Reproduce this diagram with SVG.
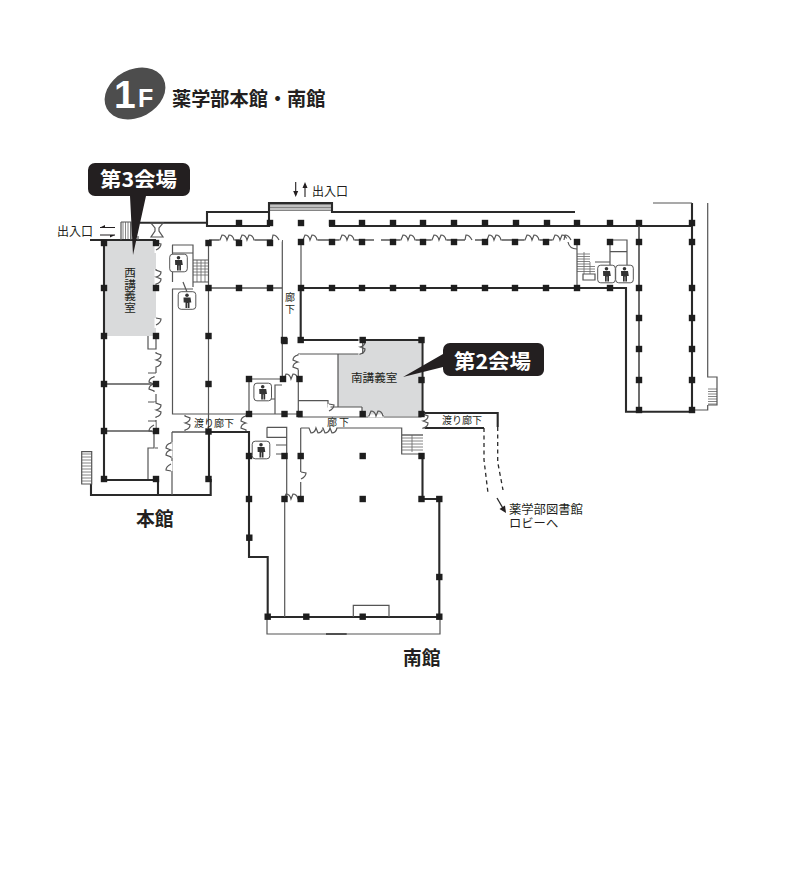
<svg xmlns="http://www.w3.org/2000/svg" width="800" height="872" viewBox="0 0 800 872">
<style>
text{font-family:"Noto Sans CJK JP","Liberation Sans",sans-serif;fill:#231f20}
.k{fill:none;stroke:#2a2a2a;stroke-width:2.1}
.t{fill:none;stroke:#555;stroke-width:1.2}
.m{fill:none;stroke:#555;stroke-width:1.7}
.h{fill:none;stroke:#666;stroke-width:.8}
.w{fill:none;stroke:#fff;stroke-width:3}
.d{fill:none;stroke:#2a2a2a;stroke-width:1.3;stroke-dasharray:4 3.5}
.s{font-size:10px}
.r{font-size:11.6px}
.l{font-size:12px}
.c{font-size:20.5px;font-weight:700;fill:#fff}
.b{font-size:18.8px;font-weight:700}
.n{font-size:12.300px;font-family:"Liberation Sans","Noto Sans CJK JP",sans-serif}
</style>
<defs>
<rect id="p" x="-3.200" y="-3.200" width="6.400" height="6.400" fill="#1e1e1e"/>
<g id="dd"><path class="w" d="M-8 0H8"/><path class="t" d="M-8 0h1l2-5c3 0 4.500 3 5 5l2-5c3 0 4.500 3 5 5h1"/></g>
<g id="ds"><path class="w" d="M-5 0H5"/><path class="t" d="M-5 0l1-5c3 0 5 3 6 5"/></g>
<g id="wc"><rect x="-8.800" y="-8.800" width="17.600" height="17.600" rx="3" fill="#fff" stroke="#555" stroke-width="1"/><circle cy="-5.200" r="1.800" fill="#333"/><path d="M-3.500-3h7l.8 5h-1.800v5.500h-1.700v-5h-.600v5h-1.700v-5.500h-1.800z" fill="#333"/></g>
</defs>

<g id="rooms">
<rect x="104" y="241" width="52" height="95" fill="#d9dadb"/>
<polygon points="362.700,341 421,341 421,416 362,416 362,407 338,407 338,354 362.700,354" fill="#d9dadb"/>
</g>

<g id="walls">
<path class="h" d="M123 222v18M125.500 222v18M128 222v18M130.500 222v18M269 204.500h63M269 206h63M269 207.500h63M269 209h63M269 210.500h63"/>
<path class="h" d="M193 263h15M193 266h15M193 269h15M193 272h15M193 275h15M197 260v22M201 260v22M205 260v22"/>
<path class="h" d="M577 254h13M577 256.500h13M577 259h13M577 261.500h13M577 264h13M577 266.500h18M577 269h18M577 271.500h18M584 252v22M590 262v12"/>
<path class="h" d="M708 389h9M708 391.500h9M708 394h9M708 396.500h9M708 399h9M708 401.500h9M708 404h9"/>
<path class="h" d="M81.700 454h10M81.700 457h10M81.700 460h10M81.700 463h10M81.700 466h10M81.700 469h10M81.700 472h10M81.700 475h10M81.700 478h10M81.700 481h10"/>
<path class="h" d="M402 435h21M402 438h21M402 441h21M402 444h21M402 447h21M402 450h21M412 435v17"/>
<path class="k" d="M90 240H156M104 240V480H158V495M91 484V495H210.700V480H209V432M209 432H249V557H267.700V617H439.300V499H422.500V456M422.500 414V340H300.700V288H626V411.700H692V203"/>
<path class="k" d="M140 222.700H207V212H269V203H332V212H575M207 212V226H270M329 226H692M269 203V223"/>
<path class="k" d="M423 428H484M421 413H497.700V427"/>
<path class="m" d="M172 432H209M209 288H282M104 384H156M104 431H156M639 226V411M209 240H282M301 240H374M381 240H577"/>
<path class="t" d="M121 222H131V240M121 222V240M138 222.700V228M138 236V240"/>
<path class="t" d="M282.300 240V379M301 240V288M208.500 240V432M172.500 289V414H249M172.500 245V282M172 245H193V287M172 253H193M172 289H193M193 260H208M193 282H208M183 282L187 292"/>
<path class="t" d="M156 336V349H148V336M156 360V373M148 373H156M156 394V402M148 402H156M156 420V431M148 421H156M154 431V448H148V479M172 432V495M155 448H158"/>
<path class="t" d="M249 379H282M249 379V414H275V385H282M256 384V399H275M249 414H300M298.300 354V417H423M298 354H362M338 354V407H328V400.700H298M362 407H338M362 407V416M362.700 340V354"/>
<path class="t" d="M267 427.300H286.700V499M267 427.300V437.300H286.700M276 445H286.700M276 454H286.700"/>
<path class="t" d="M284.700 499V617M300.700 428H401.700V454H422M401.700 435H423M300.700 428V499M353.300 617V605.300H389V617"/>
<path class="t" d="M267 617V634H440V617"/>
<path class="k" d="M326 634H346.700" style="stroke-width:1.400"/>
<path class="t" d="M692 203H653M707.700 203V377H717V405H708M707.700 405V410H692M577 242V288M583 274H595V280H583ZM595 262H610M610 240H627V265M610 251.700H627M610 240V265"/>
<path class="t" d="M81.700 451.700H91.700V484H81.700Z"/>
</g>

<g id="doors">
<use href="#dd" x="227" y="240"/><use href="#dd" x="247" y="240"/><use href="#ds" x="277" y="240"/>
<use href="#dd" x="310" y="240"/><use href="#dd" x="347" y="240"/><use href="#dd" x="408" y="240"/><use href="#dd" x="439" y="240"/><use href="#ds" x="470" y="240"/><use href="#dd" x="494" y="240"/><use href="#dd" x="532" y="240"/><use href="#dd" x="560" y="240"/><use href="#ds" x="569" y="240"/>
<path class="t" d="M568 242c1 5 4 7 9 7"/>
<path class="t" d="M151 223h12l-4 5v3l4 6h-12l4-6v-3z"/>
<use href="#ds" transform="translate(156 248) rotate(90)"/><use href="#dd" transform="translate(156 277) rotate(90)"/><use href="#ds" transform="translate(156 323) rotate(90)"/>
<use href="#dd" transform="translate(156 360) rotate(90)"/>
<use href="#dd" transform="translate(154 384) rotate(-90)"/>
<use href="#dd" transform="translate(156 410) rotate(90)"/>
<use href="#ds" transform="translate(154 427) rotate(-90)"/>
<use href="#dd" transform="translate(171 450) rotate(-90)"/>
<use href="#ds" transform="translate(171 466) rotate(-90)"/>
<use href="#dd" transform="translate(185 423) rotate(90)"/>
<use href="#dd" transform="translate(246 423) rotate(-90)"/>
<use href="#dd" x="291" y="379"/>
<use href="#dd" x="291" y="499"/>
<use href="#dd" transform="translate(298 362) rotate(-90)"/>
<use href="#dd" transform="translate(360 347) rotate(90)"/>
<use href="#ds" transform="translate(329 409) rotate(90)"/>
<use href="#dd" x="376" y="416"/>
<use href="#dd" transform="translate(316 428) scale(1 -1)"/>
<use href="#dd" transform="translate(330 428) scale(1 -1)"/>
<use href="#dd" transform="translate(423 421) rotate(90)"/>
<use href="#ds" transform="translate(301 477) rotate(90)"/>
</g>

<g id="pillars">
<use href="#p" x="104" y="243"/><use href="#p" x="156" y="243"/><use href="#p" x="104" y="288"/><use href="#p" x="156" y="288"/><use href="#p" x="104" y="336"/><use href="#p" x="156" y="336"/><use href="#p" x="104" y="384"/><use href="#p" x="156" y="384"/><use href="#p" x="104" y="431"/><use href="#p" x="156" y="431"/><use href="#p" x="104" y="479"/><use href="#p" x="156" y="479"/>
<use href="#p" x="208.500" y="243"/><use href="#p" x="239" y="243"/><use href="#p" x="270" y="243"/><use href="#p" x="208.500" y="288"/><use href="#p" x="239" y="288"/><use href="#p" x="270" y="288"/><use href="#p" x="208.500" y="336"/><use href="#p" x="208.500" y="384"/><use href="#p" x="208.500" y="431.500"/><use href="#p" x="208.500" y="479"/>
<use href="#p" x="239" y="223"/><use href="#p" x="270" y="223"/><use href="#p" x="301" y="223"/><use href="#p" x="284.500" y="341"/>
<use href="#p" x="332" y="223"/><use href="#p" x="362" y="223"/><use href="#p" x="393" y="223"/><use href="#p" x="423" y="223"/><use href="#p" x="454" y="223"/><use href="#p" x="485" y="223"/><use href="#p" x="516" y="223"/><use href="#p" x="547" y="223"/><use href="#p" x="577" y="223"/><use href="#p" x="610" y="223"/><use href="#p" x="639" y="223"/><use href="#p" x="692" y="223"/>
<use href="#p" x="301" y="242"/><use href="#p" x="332" y="242"/><use href="#p" x="362" y="242"/><use href="#p" x="393" y="242"/><use href="#p" x="423" y="242"/><use href="#p" x="454" y="242"/><use href="#p" x="485" y="242"/><use href="#p" x="515" y="242"/><use href="#p" x="546" y="242"/><use href="#p" x="577" y="242"/><use href="#p" x="610" y="242"/><use href="#p" x="639" y="242"/><use href="#p" x="692" y="242"/>
<use href="#p" x="301" y="288"/><use href="#p" x="332" y="288"/><use href="#p" x="362" y="288"/><use href="#p" x="393" y="288"/><use href="#p" x="423" y="288"/><use href="#p" x="454" y="288"/><use href="#p" x="485" y="288"/><use href="#p" x="515" y="288"/><use href="#p" x="546" y="288"/><use href="#p" x="577" y="288"/><use href="#p" x="610" y="288"/><use href="#p" x="639" y="288"/><use href="#p" x="692" y="288"/>
<use href="#p" x="639" y="318"/><use href="#p" x="692" y="318"/><use href="#p" x="639" y="349"/><use href="#p" x="692" y="349"/><use href="#p" x="639" y="380"/><use href="#p" x="692" y="380"/><use href="#p" x="639" y="410"/><use href="#p" x="692" y="410"/>
<use href="#p" x="249" y="379"/><use href="#p" x="283" y="379"/><use href="#p" x="299.500" y="379"/><use href="#p" x="284" y="340"/><use href="#p" x="300.700" y="340"/><use href="#p" x="249" y="414"/><use href="#p" x="284.500" y="414"/><use href="#p" x="299.500" y="414"/>
<use href="#p" x="249" y="456"/><use href="#p" x="284.500" y="456"/><use href="#p" x="300.700" y="456"/><use href="#p" x="249" y="499"/><use href="#p" x="284.500" y="499"/><use href="#p" x="300.700" y="499"/>
<use href="#p" x="362.700" y="340"/><use href="#p" x="421.500" y="340"/><use href="#p" x="421.500" y="380"/><use href="#p" x="362.700" y="414"/><use href="#p" x="421.500" y="414"/><use href="#p" x="362.700" y="456"/><use href="#p" x="421.500" y="456"/><use href="#p" x="362.700" y="499"/><use href="#p" x="421.500" y="499"/><use href="#p" x="439.300" y="499"/>
<use href="#p" x="249.300" y="537.700"/><use href="#p" x="439.300" y="577"/><use href="#p" x="267.700" y="616.700"/><use href="#p" x="306.300" y="616.700"/><use href="#p" x="362.700" y="616.700"/><use href="#p" x="439.300" y="616.700"/>
</g>

<g id="toilets">
<use href="#wc" x="178.500" y="263"/><use href="#wc" x="187" y="300.500"/><use href="#wc" x="262.700" y="392"/><use href="#wc" x="261" y="450"/><use href="#wc" x="606.500" y="274"/><use href="#wc" x="624.500" y="274"/>
</g>

<g id="route">
<path class="d" d="M484 428V460L488 493M497.700 427V462L503 490"/>
<path d="M497 498L504 510" fill="none" stroke="#2a2a2a" stroke-width="1.300"/>
<path d="M506 513L499.500 509L505 505.500Z" fill="#231f20"/>
</g>

<g id="arrows" fill="none" stroke="#231f20" stroke-width="1.100">
<path d="M100 227.500H115M100 235H115M295.700 182V195M305 184V197"/>
<path d="M100 227.500l5-2.500v2.500zM115 235l-5 2.500v-2.500zM295.700 197l-2.500-6h5zM305 182l-2.500 6h5z" fill="#231f20" stroke="none"/>
</g>

<g id="callout-3">
<path d="M95 163H183a7 7 0 0 1 7 7V189a7 7 0 0 1-7 7H146L133 255L130 196H95a7 7 0 0 1-7-7V170a7 7 0 0 1 7-7Z" fill="#231f20"/>
<text class="c" x="100" y="187" textLength="77" lengthAdjust="spacingAndGlyphs">第3会場</text>
</g>
<g id="callout-2">
<path d="M450 343H538a6 6 0 0 1 6 6V370a6 6 0 0 1-6 6H450a7 7 0 0 1-7-7V367L403 377L443 354V350a7 7 0 0 1 7-7Z" fill="#231f20"/>
<text class="c" x="454" y="369" textLength="77" lengthAdjust="spacingAndGlyphs">第2会場</text>
</g>

<g id="title">
<ellipse cx="135" cy="93.500" rx="32" ry="24" transform="rotate(-28 135 93.500)" fill="#4d4d4d"/>
<text x="114" y="108" font-size="39" font-weight="700" style="fill:#fff;font-family:'Liberation Sans',sans-serif">1</text>
<text x="138" y="107" font-size="25" font-weight="700" style="fill:#fff;font-family:'Liberation Sans',sans-serif">F</text>
<text x="172" y="106" font-size="19.200" font-weight="700">薬学部本館・南館</text>
</g>

<g id="labels">
<text class="l" x="57" y="235.500">出入口</text>
<text class="l" x="312" y="195.500">出入口</text>
<text class="r" x="130" y="267" style="writing-mode:vertical-rl" dominant-baseline="central">西講義室</text>
<text class="r" x="351" y="382">南講義室</text>
<text class="s" x="290" y="292" style="writing-mode:vertical-rl;letter-spacing:2px" dominant-baseline="central">廊下</text>
<text class="s" x="194" y="426.500">渡り廊下</text>
<text class="s" x="327" y="425.500" style="letter-spacing:2px">廊下</text>
<text class="s" x="442" y="424">渡り廊下</text>
<text class="n" x="509" y="514">薬学部図書館</text>
<text class="n" x="509" y="528.300">ロビーへ</text>
<text class="b" x="136" y="526">本館</text>
<text class="b" x="403" y="665">南館</text>
</g>
</svg>
